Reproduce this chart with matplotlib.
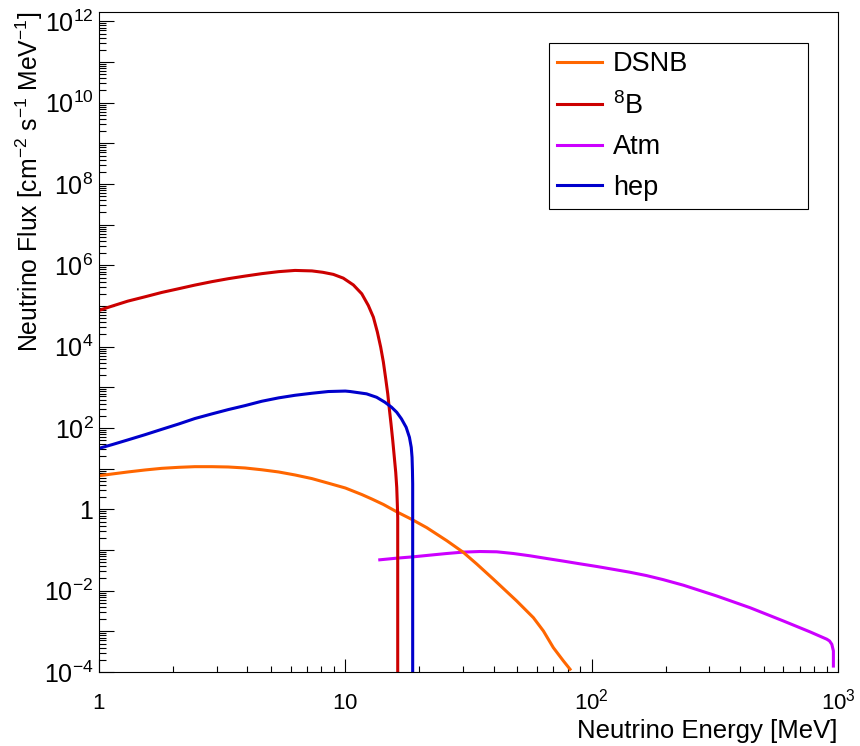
import numpy as np
import matplotlib.pyplot as plt
from matplotlib.ticker import FixedLocator, NullFormatter, LogLocator

plt.rcParams['font.family'] = ['Liberation Sans', 'DejaVu Sans']
plt.rcParams['mathtext.fontset'] = 'custom'
plt.rcParams['mathtext.rm'] = 'Liberation Sans'
plt.rcParams['mathtext.it'] = 'Liberation Sans:italic'
plt.rcParams['mathtext.bf'] = 'Liberation Sans:bold'

# neutrino fluxes [cm^-2 s^-1 MeV^-1] vs energy [MeV]
b8_E = [1.0, 1.13, 1.31, 1.54, 1.80, 2.11, 2.45, 2.87, 3.35, 3.92, 4.58, 5.36,
        6.25, 7.32, 8.1, 8.94, 9.81, 10.78, 11.66, 12.4, 13.0, 13.49, 13.92, 14.27,
        14.59, 14.87, 15.09, 15.33, 15.58, 15.81, 16.02, 16.17, 16.26, 16.32, 16.32]
b8_F = [7.8e4, 9.95e4, 1.32e5, 1.69e5, 2.16e5, 2.67e5, 3.27e5, 3.97e5, 4.7e5, 5.45e5, 6.25e5, 7.0e5,
        7.5e5, 7.3e5, 6.75e5, 6.0e5, 4.85e5, 3.3e5, 2.0e5, 1.03e5, 5.3e4, 2.3e4, 9.7e3, 4.2e3,
        1.62e3, 690, 295, 126, 49, 19, 8.1, 3.5, 1.35, 0.63, 1e-5]

hep_E = [1.0, 1.13, 1.31, 1.54, 1.80, 2.11, 2.45, 2.87, 3.35, 3.92, 4.58, 5.36,
         6.25, 7.32, 8.53, 10.0, 10.45, 12.2, 13.4, 14.48, 15.41, 16.17, 16.9,
         17.66, 18.21, 18.52, 18.66, 18.73, 18.77, 18.77]
hep_F = [31.6, 39, 51, 68.7, 93, 126, 171, 222, 284, 356, 455, 551,
         638, 716, 789, 810, 790, 692, 570, 430, 324, 244, 168,
         104, 59, 33.5, 19, 8.9, 4.2, 1e-5]

dsnb_E = [1.0, 1.13, 1.31, 1.54, 1.80, 2.11, 2.45, 2.87, 3.35, 3.92, 4.58, 5.36,
          6.25, 7.32, 8.53, 10.0, 11.67, 12.8, 14.27, 16.17, 18.57, 21.4, 25.8,
          30.1, 34.2, 39.9, 49.6, 58.0, 63.7, 69.9, 76.8, 81.7]
dsnb_F = [6.7, 7.4, 8.3, 9.3, 10.2, 10.8, 11.2, 11.2, 11.0, 10.4, 9.4, 8.3,
          7.0, 5.7, 4.4, 3.35, 2.31, 1.80, 1.32, 0.87, 0.57, 0.355, 0.17,
          0.088, 0.045, 0.0192, 5.6e-3, 2.17e-3, 1.02e-3, 3.97e-4, 1.87e-4, 1.17e-4]

atm_E = [13.8, 16.17, 18.88, 22.1, 25.8, 30.1, 35.2, 41.2, 48.1, 56.2, 65.7, 76.8,
         89.7, 105, 122, 143, 167, 195, 236, 322, 440, 600, 770, 901, 924, 944, 958, 958]
atm_F = [0.0574, 0.063, 0.068, 0.0748, 0.082, 0.0888, 0.0918, 0.0903, 0.082, 0.072, 0.0618, 0.0533,
         0.0457, 0.0393, 0.0336, 0.0284, 0.0235, 0.0187, 0.0136, 7.4e-3, 3.8e-3, 1.8e-3, 9.7e-4,
         6.4e-4, 5.8e-4, 4.8e-4, 3.3e-4, 1.4e-4]

c_dsnb = '#ff6600'
c_b8 = '#cc0000'
c_atm = '#cc00ff'
c_hep = '#0000cc'

fig = plt.figure(figsize=(8.6, 7.46), dpi=100)
ax = fig.add_axes([0.1151, 0.0992, 0.8593, 0.8847])

lw = 2.2
l_atm, = ax.plot(atm_E, atm_F, color=c_atm, lw=lw, label='Atm')
l_dsnb, = ax.plot(dsnb_E, dsnb_F, color=c_dsnb, lw=lw, label='DSNB')
l_b8, = ax.plot(b8_E, b8_F, color=c_b8, lw=lw, label=r'$\mathregular{^{8}B}$')
l_hep, = ax.plot(hep_E, hep_F, color=c_hep, lw=lw, label='hep')

ax.set_xscale('log')
ax.set_yscale('log')
ax.set_xlim(1, 1000)
ax.set_ylim(1e-4, 10**12.23)

# x axis ticks
ax.xaxis.set_major_locator(FixedLocator([1, 10, 100, 1000]))
ax.xaxis.set_minor_locator(LogLocator(base=10, subs=np.arange(2, 10), numticks=20))
ax.xaxis.set_minor_formatter(NullFormatter())
ax.set_xticklabels([r'$\mathregular{1}$', r'$\mathregular{10}$',
                    r'$\mathregular{10^{2}}$', r'$\mathregular{10^{3}}$'])

# y axis ticks: every decade, labels on even decades
y_dec = list(range(-4, 13))
ax.yaxis.set_major_locator(FixedLocator([10.0**d for d in y_dec]))
ax.yaxis.set_minor_locator(LogLocator(base=10, subs=np.arange(2, 10), numticks=30))
ax.yaxis.set_minor_formatter(NullFormatter())
y_lab = []
for d in y_dec:
    if d % 2:
        y_lab.append('')
    elif d == 0:
        y_lab.append(r'$\mathregular{1}$')
    else:
        y_lab.append(r'$\mathregular{10^{%d}}$' % d)
ax.set_yticklabels(y_lab)

ax.tick_params(axis='both', which='both', direction='in', top=False, right=False,
               color='black', width=0.8)
ax.tick_params(axis='y', which='major', length=10.8, pad=4, labelsize=18)
ax.tick_params(axis='y', which='minor', length=5)
ax.tick_params(axis='x', which='major', length=9.4, pad=27, labelsize=16)
ax.tick_params(axis='x', which='minor', length=4.3)
for lab in ax.get_xticklabels():
    lab.set_va('baseline')

for s in ax.spines.values():
    s.set_linewidth(0.8)

ax.set_xlabel('Neutrino Energy [MeV]', fontsize=18.5, loc='right')
ax.xaxis.set_label_coords(1.0, -0.071)
ax.set_ylabel(r'Neutrino Flux [cm$\mathregular{^{-2}}$ s$\mathregular{^{-1}}$ MeV$\mathregular{^{-1}}$]',
              fontsize=17.8, loc='top')
ax.yaxis.set_label_coords(-0.073, 1.0)

leg = ax.legend(handles=[l_dsnb, l_b8, l_atm, l_hep], loc='upper left',
                bbox_to_anchor=(0.638, 0.7198, 0.3015, 0.2226),
                bbox_transform=fig.transFigure, mode='expand',
                fontsize=19.5, frameon=True, fancybox=False, framealpha=1,
                edgecolor='black', handlelength=1.67, handletextpad=0.4,
                labelspacing=0.54, borderaxespad=0, borderpad=0.3)
leg.get_frame().set_linewidth(0.8)

fig.savefig('out.png', dpi=100)
